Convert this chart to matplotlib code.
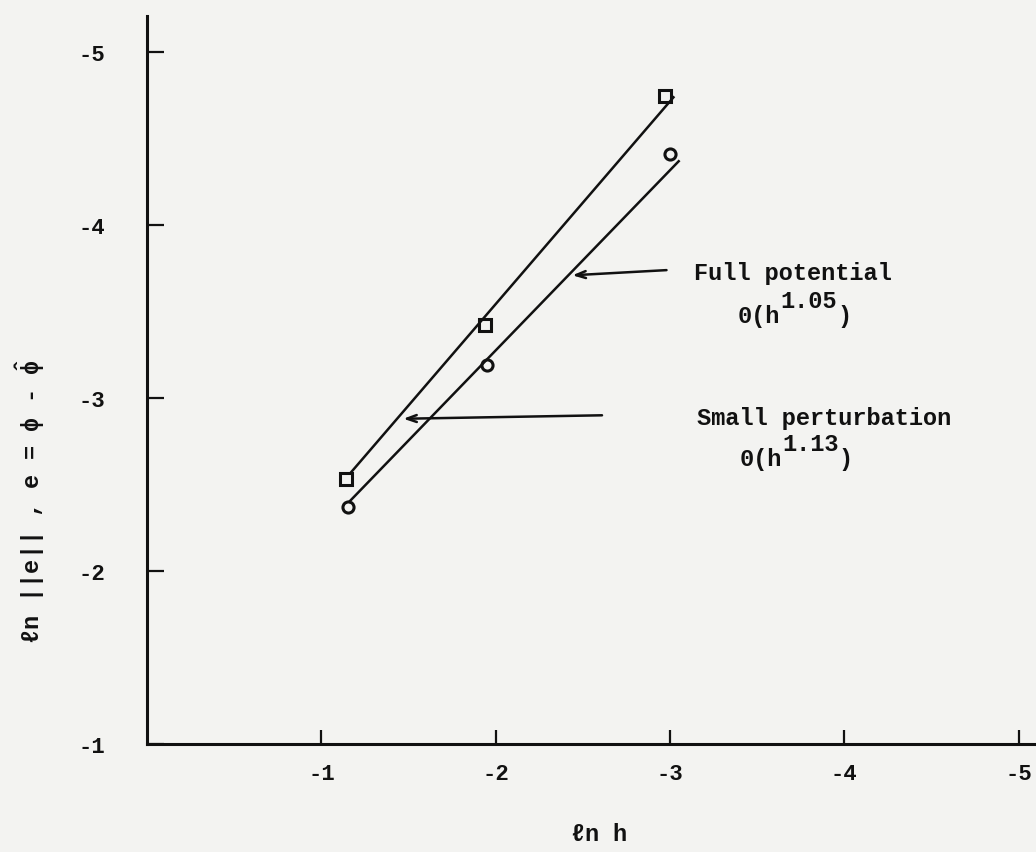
import numpy as np
import matplotlib.pyplot as plt

plt.rcParams['font.family'] = ['Liberation Mono', 'DejaVu Sans']
plt.rcParams['font.weight'] = 'bold'
plt.rcParams['axes.unicode_minus'] = False
plt.rcParams['mathtext.fontset'] = 'custom'
plt.rcParams['mathtext.rm'] = 'Liberation Mono:bold'
plt.rcParams['mathtext.it'] = 'Liberation Mono:bold'
plt.rcParams['mathtext.default'] = 'rm'
plt.rcParams['mathtext.fallback'] = 'stix'

# ln h and ln ||e|| at each mesh
h_small = [-1.14, -1.94, -2.97]          # small perturbation (squares)
e_small = [-2.53, -3.42, -4.75]
h_full = [-1.15, -1.95, -3.00]           # full potential (circles)
e_full = [-2.37, -3.19, -4.41]

# fitted straight lines
fit_small_h = [-1.17, -3.02]
fit_small_e = [-2.57, -4.74]
fit_full_h = [-1.16, -3.05]
fit_full_e = [-2.40, -4.37]

ticks = [-1, -2, -3, -4, -5]

ink = '#111111'
paper = '#f3f3f1'

fig = plt.figure(figsize=(10.36, 8.53), dpi=100, facecolor=paper)
ax = fig.add_axes([0.142, 0.127, 0.858, 0.853], facecolor=paper)

ax.plot(fit_small_h, fit_small_e, '-', color=ink, lw=1.8)
ax.plot(fit_full_h, fit_full_e, '-', color=ink, lw=1.8)
ax.plot(h_small, e_small, 's', ms=8, mfc='none', mec=ink, mew=2.2)
ax.plot(h_full, e_full, 'o', ms=8, mfc='none', mec=ink, mew=2.2)

arrow = dict(arrowstyle='->,head_length=0.7,head_width=0.25', color=ink, lw=1.8,
             shrinkA=0, shrinkB=0)
ax.annotate('', xy=(-2.44, -3.71), xytext=(-2.98, -3.74), arrowprops=arrow)
ax.annotate('', xy=(-1.47, -2.88), xytext=(-2.61, -2.90), arrowprops=arrow)

fs = 17
cw = 0.6 * fs   # monospace character width, points
txt = dict(fontsize=fs, color=ink, ha='left', va='baseline')


def order_label(x, y, power):
    # typewriter style: exponent at full size, raised half a line
    ax.text(x, y, '0(h', **txt)
    ax.annotate(power, xy=(x, y), xytext=(3 * cw, 11),
                textcoords='offset points', **txt)
    ax.annotate(')', xy=(x, y), xytext=(7 * cw, 0),
                textcoords='offset points', **txt)


ax.text(-3.14, -3.69, 'Full potential', **txt)
order_label(-3.39, -3.44, '1.05')
ax.text(-3.155, -2.85, 'Small perturbation', **txt)
order_label(-3.40, -2.61, '1.13')

ax.set_xlim(0, -5.10)
ax.set_ylim(-1, -5.21)
ax.set_xticks(ticks)
ax.set_yticks(ticks)
ax.set_xticklabels([str(t) for t in ticks])
ax.set_yticklabels([str(t) for t in ticks])

for side in ['top', 'right']:
    ax.spines[side].set_visible(False)
for side in ['left', 'bottom']:
    ax.spines[side].set_linewidth(2.2)
    ax.spines[side].set_color(ink)

ax.tick_params(axis='x', direction='in', length=10, width=1.6, pad=14,
               labelsize=16, colors=ink)
ax.tick_params(axis='y', direction='in', length=12, width=1.6, pad=30,
               labelsize=16, colors=ink)

fig.text(599 / 1036, 1 - 835 / 853, r'$\ell$n h', fontsize=fs, color=ink,
         ha='center', va='center')
fig.text(30 / 1036, 1 - 502 / 853,
         r'$\ell$n ||e|| , e = $\phi$ - $\hat{\phi}$',
         fontsize=fs, color=ink, rotation=90, ha='center', va='center')

fig.savefig('out.png', dpi=100, facecolor=paper)
